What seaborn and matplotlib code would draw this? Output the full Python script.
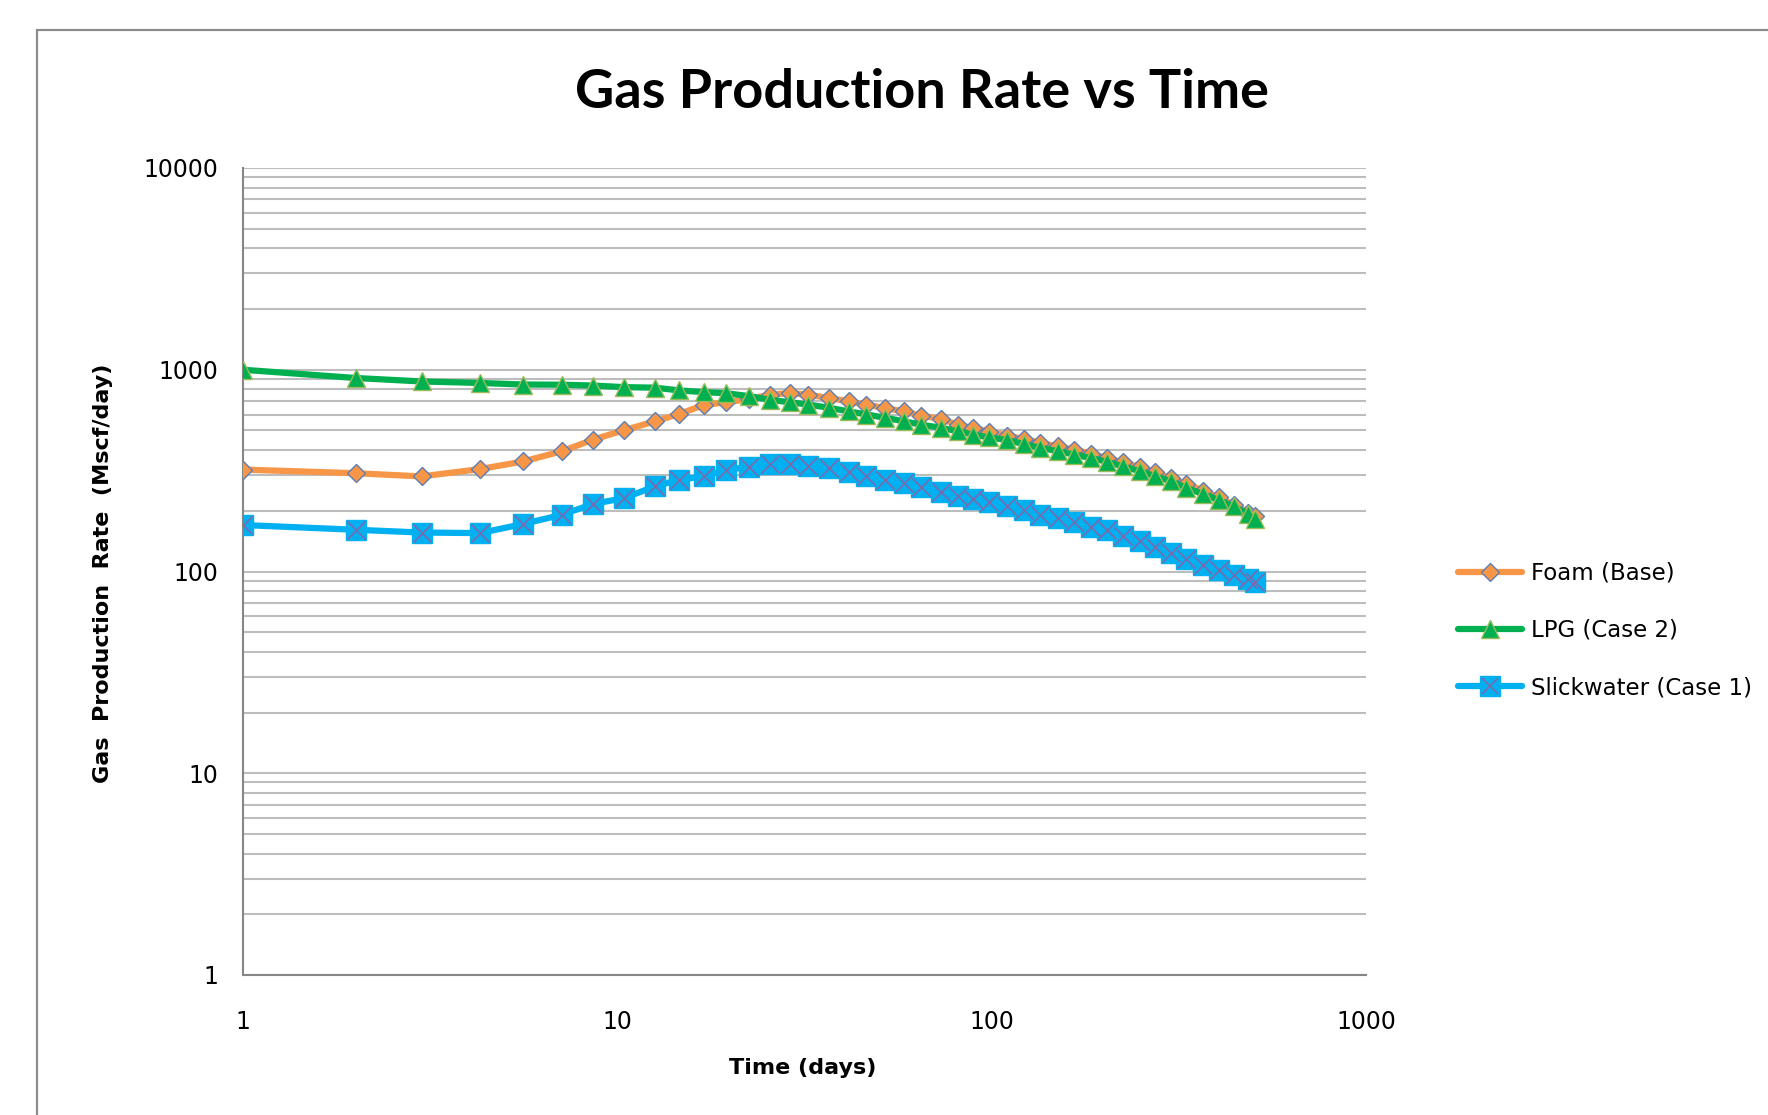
import matplotlib
matplotlib.use("Agg")
import matplotlib.pyplot as plt
import seaborn as sns
import pandas as pd
from matplotlib.lines import Line2D
from matplotlib.patches import Rectangle
from matplotlib.legend_handler import HandlerTuple

# Simulated production history (days vs Mscf/day)
time_days = [1, 2, 3, 4.3, 5.6, 7.1, 8.6, 10.4, 12.6, 14.6,
             17, 19.5, 22.5, 25.5, 28.9, 32.4, 36.7, 41.5, 46.3, 52,
             58.3, 64.6, 73.4, 81.3, 89.3, 98.4, 110, 122, 135, 150,
             166, 184, 203, 224, 249, 273, 301, 331, 367, 404,
             444, 485, 505]

foam_rate = [320, 307, 296, 322, 351, 394, 450, 501, 555, 603,
             668, 690, 715, 752, 767, 752, 724, 697, 671, 646,
             621, 592, 570, 533, 514, 494, 471, 454, 434, 417,
             402, 384, 365, 347, 330, 310, 290, 272, 252, 233,
             214, 196, 188]

lpg_rate = [1000, 910, 875, 860, 845, 843, 835, 820, 815, 790,
            775, 765, 740, 710, 690, 672, 648, 622, 600, 578,
            555, 535, 515, 495, 477, 462, 448, 428, 410, 395,
            380, 365, 350, 332, 314, 297, 280, 260, 242, 226,
            210, 192, 182]

slick_rate = [170, 161, 156, 155, 172, 191, 216, 231, 264, 285,
              296, 319, 330, 340, 342, 334, 326, 313, 299, 285,
              275, 262, 249, 238, 229, 221, 210, 201, 191, 184,
              176, 167, 160, 150, 141, 133, 124, 115, 108, 102,
              96, 92, 89]

series_names = ["Foam (Base)", "LPG (Case 2)", "Slickwater (Case 1)"]
x_ticks = [1, 10, 100, 1000]
x_tick_labels = ["1", "10", "100", "1000"]
y_ticks = [1, 10, 100, 1000, 10000]
y_tick_labels = ["1", "10", "100", "1000", "10000"]

df = pd.DataFrame({"time": time_days, "foam": foam_rate,
                   "lpg": lpg_rate, "slick": slick_rate})

sns.set_style("white")
plt.rcParams["font.family"] = ["DejaVu Sans"]
plt.rcParams["text.color"] = "black"
plt.rcParams["xtick.color"] = "black"
plt.rcParams["ytick.color"] = "black"

W, H = 1768, 1115
fig = plt.figure(figsize=(W / 100, H / 100), dpi=100)
ax = fig.add_axes([243 / W, 1 - 975 / H, (1366 - 243) / W, (975 - 168) / H])

ORANGE = "#f79646"
GREEN = "#00b050"
CYAN = "#00b0f0"
XCOL = "#7a6bb0"
LW = 4.5

sns.lineplot(data=df, x="time", y="foam", ax=ax, color=ORANGE, lw=LW,
             marker="D", markersize=9.5, markerfacecolor=ORANGE,
             markeredgecolor="#5b7fb5", markeredgewidth=1.0,
             estimator=None, sort=False, zorder=3)
sns.lineplot(data=df, x="time", y="lpg", ax=ax, color=GREEN, lw=LW,
             marker="^", markersize=13, markerfacecolor=GREEN,
             markeredgecolor="#9bbb59", markeredgewidth=1.0,
             estimator=None, sort=False, zorder=4)
sns.lineplot(data=df, x="time", y="slick", ax=ax, color=CYAN, lw=LW,
             marker="s", markersize=14.5, markerfacecolor=CYAN,
             markeredgecolor=CYAN, markeredgewidth=1.0,
             estimator=None, sort=False, zorder=5)
sns.scatterplot(data=df, x="time", y="slick", ax=ax, marker="x", s=170,
                color=XCOL, linewidth=1.2, zorder=6)

ax.set_xscale("log")
ax.set_yscale("log")
ax.set_xlim(1, 1000)
ax.set_ylim(1, 10000)

ax.set_xticks(x_ticks)
ax.set_xticklabels(x_tick_labels)
ax.set_yticks(y_ticks)
ax.set_yticklabels(y_tick_labels)
ax.xaxis.set_minor_locator(matplotlib.ticker.NullLocator())
ax.yaxis.set_minor_locator(matplotlib.ticker.LogLocator(base=10, subs=range(2, 10)))
ax.yaxis.set_minor_formatter(matplotlib.ticker.NullFormatter())

ax.tick_params(axis="y", which="major", direction="out", length=7, width=1.5,
               color="#868686", pad=11, labelsize=17, labelcolor="black")
ax.tick_params(axis="y", which="minor", length=0)
ax.tick_params(axis="x", which="major", direction="out", length=9, width=1.5,
               color="#868686", pad=16, labelsize=17, labelcolor="black")

ax.grid(True, axis="y", which="both", color="#bdbdbd", lw=1.5)
ax.grid(False, axis="x")
for side in ("top", "right"):
    ax.spines[side].set_visible(False)
for side in ("left", "bottom"):
    ax.spines[side].set_color("#868686")
    ax.spines[side].set_linewidth(1.5)
ax.set_xlabel("")
ax.set_ylabel("")

fig.text(922 / W, 1 - 92 / H, "Gas Production Rate vs Time",
         family="Lato", weight="bold", fontsize=39, ha="center", va="center",
         color="black")
fig.text(803 / W, 1 - 1068 / H, "Time (days)", family="DejaVu Sans",
         weight="bold", fontsize=16, ha="center", va="center", color="black")
fig.text(103 / W, 1 - 573 / H, "Gas  Production  Rate  (Mscf/day)",
         family="DejaVu Sans", weight="bold", fontsize=16,
         rotation=90, ha="center", va="center", color="black")

# Legend entries built from the same marker styles
h_foam = Line2D([], [], color=ORANGE, lw=LW, marker="D", markersize=9.5,
                markerfacecolor=ORANGE, markeredgecolor="#5b7fb5")
h_lpg = Line2D([], [], color=GREEN, lw=LW, marker="^", markersize=13,
               markerfacecolor=GREEN, markeredgecolor="#9bbb59")
h_sq = Line2D([], [], color=CYAN, lw=LW, marker="s", markersize=14,
              markerfacecolor=CYAN, markeredgecolor=CYAN)
h_x = Line2D([], [], lw=0, marker="x", markersize=11, color=XCOL,
             markeredgewidth=1.2)
fig.legend([h_foam, h_lpg, (h_sq, h_x)], series_names,
           loc="upper left", bbox_to_anchor=(1437 / W, 1 - 541 / H),
           frameon=False, fontsize=16.5, handlelength=2.8, handletextpad=0.4,
           labelspacing=1.5, numpoints=1,
           handler_map={tuple: HandlerTuple(ndivide=1, pad=0)})

# Outer chart-area border
fig.add_artist(Rectangle((37 / W, -0.1), 2.0, 1 - 30 / H + 0.1,
                         transform=fig.transFigure, fill=False,
                         ec="#8c8c8c", lw=1.6, zorder=0))

fig.savefig("out.png", dpi=100)
